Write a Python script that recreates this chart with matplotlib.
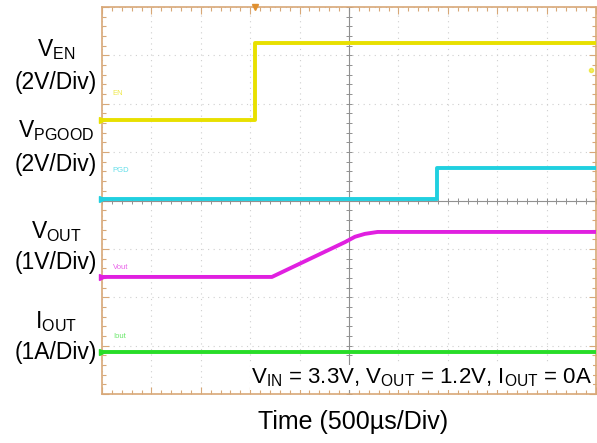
import numpy as np
import matplotlib
matplotlib.use("Agg")
import matplotlib.pyplot as plt
from matplotlib.ticker import MultipleLocator

plt.rcParams['font.family'] = ['Liberation Sans', 'DejaVu Sans']
plt.rcParams['mathtext.fontset'] = 'custom'
plt.rcParams['mathtext.rm'] = 'Liberation Sans'
plt.rcParams['mathtext.it'] = 'Liberation Sans:italic'
plt.rcParams['mathtext.bf'] = 'Liberation Sans:bold'

# scope settings: 10 x 8 divisions, 500us/div
us_per_div = 500

# V_EN, 2V/div
en_t = [0, 1550, 1550, 5000]
en_v = [0, 0, 3.2, 3.2]
en_scale, en_offset = 2.0, 5.66

# V_PGOOD, 2V/div
pg_t = [0, 3390, 3390, 5000]
pg_v = [0, 0, 1.28, 1.28]
pg_scale, pg_offset = 2.0, 4.03

# V_OUT, 1V/div (soft-start ramp)
out_t = [0, 1720, 2460, 2560, 2660, 2790, 5000]
out_v = [0, 0, 0.72, 0.83, 0.89, 0.93, 0.93]
out_scale, out_offset = 1.0, 2.42

# I_OUT, 1A/div
io_t = [0, 5000]
io_v = [0, 0]
io_scale, io_offset = 1.0, 0.87

c_en = '#e8e000'
c_pg = '#20d0e0'
c_out = '#e020e0'
c_io = '#28dd28'
frame = '#d8a878'


def to_div(t, v, scale, offset):
    return np.array(t) / us_per_div, np.array(v) / scale + offset


fig = plt.figure(figsize=(5.97, 4.43), dpi=100)
ax = fig.add_axes([102 / 597, 49 / 443, 494 / 597, 387 / 443])
ax.set_xlim(0, 10)
ax.set_ylim(0, 8)

# grid
ax.xaxis.set_major_locator(MultipleLocator(1))
ax.yaxis.set_major_locator(MultipleLocator(1))
ax.xaxis.set_minor_locator(MultipleLocator(0.2))
ax.yaxis.set_minor_locator(MultipleLocator(0.2))
ax.grid(True, which='major', color='#cfcfcf', linestyle=(0, (1, 4)), linewidth=0.8)
ax.tick_params(which='both', direction='in', labelbottom=False, labelleft=False,
               top=True, right=True, color=frame, width=0.8)
ax.tick_params(which='major', length=5)
ax.tick_params(which='minor', length=3)
for s in ax.spines.values():
    s.set_color(frame)
    s.set_linewidth(1.2)

# center crosshair
ax.axvline(5, color='#909090', linewidth=0.8)
ax.axhline(4, color='#909090', linewidth=0.8)
mt = np.arange(0, 10.01, 0.2)
ax.plot(mt, np.full_like(mt, 4), linestyle='none', marker='|', markersize=4, color='#909090', mew=0.7)
mt2 = np.arange(0, 8.01, 0.2)
ax.plot(np.full_like(mt2, 5), mt2, linestyle='none', marker='_', markersize=4, color='#909090', mew=0.7)

# traces
for t, v, sc, off, c in [(en_t, en_v, en_scale, en_offset, c_en),
                         (pg_t, pg_v, pg_scale, pg_offset, c_pg),
                         (out_t, out_v, out_scale, out_offset, c_out),
                         (io_t, io_v, io_scale, io_offset, c_io)]:
    x, y = to_div(t, v, sc, off)
    ax.plot(x, y, color=c, linewidth=2.8, solid_joinstyle='round', zorder=5)
    ax.plot([0.0], [off], marker='>', markersize=4, color=c, clip_on=False, zorder=6)

# small channel tags
tags = [('EN', en_offset + 0.55, c_en), ('PGD', pg_offset + 0.6, c_pg),
        ('Vout', out_offset + 0.2, c_out), ('Iout', io_offset + 0.32, c_io)]
for txt, yy, c in tags:
    ax.text(0.22, yy, txt, color=c, fontsize=5.5, alpha=0.7, va='center')

# trigger markers
ax.plot([1550 / us_per_div], [8], marker='v', markersize=5, color='#e09030', clip_on=False, zorder=6)
ax.plot([9.9], [6.7], marker='o', markersize=3, color=c_en, alpha=0.6, zorder=6)

ax.text(9.92, 0.1, r'V$_{\mathrm{IN}}$ = 3.3V, V$_{\mathrm{OUT}}$ = 1.2V, I$_{\mathrm{OUT}}$ = 0A',
        ha='right', va='bottom', fontsize=16, color='black', zorder=7,
        bbox=dict(facecolor='white', edgecolor='none', pad=1))

# channel labels on the left
labels = [(r'V$_{\mathrm{EN}}$', 50), ('(2V/Div)', 83),
          (r'V$_{\mathrm{PGOOD}}$', 131), ('(2V/Div)', 165),
          (r'V$_{\mathrm{OUT}}$', 232), ('(1V/Div)', 262),
          (r'I$_{\mathrm{OUT}}$', 322), ('(1A/Div)', 352)]
for txt, py in labels:
    fig.text(56 / 597, 1 - py / 443, txt, ha='center', va='center', fontsize=16.5)

fig.text(353 / 597, 1 - 422 / 443, 'Time (500µs/Div)', ha='center', va='center', fontsize=18)

fig.savefig('out.png', dpi=100)
